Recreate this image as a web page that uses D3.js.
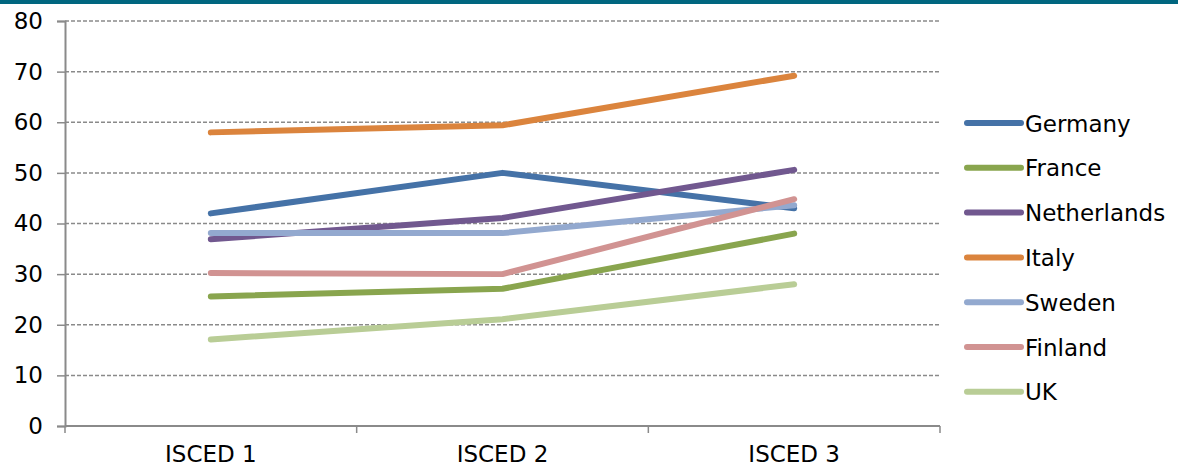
<!DOCTYPE html>
<html>
<head>
<meta charset="utf-8">
<script src="https://cdn.jsdelivr.net/npm/d3@7"></script>
<style>
  body { margin: 0; background: #fff; }
  text { font-family: "DejaVu Sans", Verdana, sans-serif; fill: #000; }
</style>
</head>
<body>
<div id="chart"></div>
<script>
// Data
const levels = ['ISCED 1', 'ISCED 2', 'ISCED 3'];
const countries = ['Germany', 'France', 'Netherlands', 'Italy', 'Sweden', 'Finland', 'UK'];
const germany = [42, 50, 43];
const france = [25.6, 27.1, 38];
const netherlands = [36.9, 41.1, 50.6];
const italy = [58, 59.4, 69.2];
const sweden = [38.1, 38.1, 43.6];
const finland = [30.2, 30, 44.8];
const uk = [17.1, 21.1, 28];
const yTicks = [0, 10, 20, 30, 40, 50, 60, 70, 80];
const colors = ['#4572a7', '#89a54e', '#71588f', '#db843d', '#93a9cf', '#d19392', '#b9cd96'];

const seriesValues = [germany, france, netherlands, italy, sweden, finland, uk];
const series = countries.map((name, i) => ({
  name,
  color: colors[i],
  values: seriesValues[i].map((v, j) => ({ level: levels[j], value: v }))
}));

const W = 1178, H = 468;
const plot = { left: 65, right: 940, top: 21, bottom: 426 };

const svg = d3.select('#chart')
  .append('svg')
  .attr('width', W)
  .attr('height', H);

// Title strip (only its bottom edge is visible in the crop)
svg.append('rect')
  .attr('x', 0).attr('y', 0)
  .attr('width', W).attr('height', 4)
  .attr('fill', '#00667f');

// Scales
const x = d3.scaleBand()
  .domain(levels)
  .range([plot.left, plot.right]);

const y = d3.scaleLinear()
  .domain([0, 80])
  .range([plot.bottom, plot.top]);

// Gridlines
svg.append('g')
  .selectAll('line')
  .data(yTicks.filter(d => d > 0))
  .join('line')
  .attr('x1', plot.left)
  .attr('x2', plot.right)
  .attr('y1', d => y(d))
  .attr('y2', d => y(d))
  .attr('stroke', '#8a8a8a')
  .attr('stroke-width', 1.5)
  .attr('stroke-dasharray', '4,2');

// Y axis
const yAxis = svg.append('g')
  .attr('transform', `translate(${plot.left},0)`)
  .call(d3.axisLeft(y).tickValues(yTicks).tickSize(8).tickPadding(14));
yAxis.select('.domain').attr('stroke', '#8a8a8a').attr('stroke-width', 2);
yAxis.selectAll('.tick line').attr('stroke', '#8a8a8a').attr('stroke-width', 1.5);
yAxis.selectAll('.tick text')
  .style('font-family', '"DejaVu Sans", Verdana, sans-serif')
  .style('font-size', '23px')
  .attr('fill', '#000');

// X axis (ticks between categories)
const xAxis = svg.append('g');
xAxis.append('line')
  .attr('x1', plot.left).attr('x2', plot.right)
  .attr('y1', plot.bottom).attr('y2', plot.bottom)
  .attr('stroke', '#8a8a8a')
  .attr('stroke-width', 2);

const boundaries = levels.map(l => x(l)).concat([x(levels[levels.length - 1]) + x.bandwidth()]);
xAxis.selectAll('line.tk')
  .data(boundaries)
  .join('line')
  .attr('class', 'tk')
  .attr('x1', d => d).attr('x2', d => d)
  .attr('y1', plot.bottom).attr('y2', plot.bottom + 7)
  .attr('stroke', '#8a8a8a')
  .attr('stroke-width', 1.5);

xAxis.selectAll('text')
  .data(levels)
  .join('text')
  .attr('x', d => x(d) + x.bandwidth() / 2)
  .attr('y', 462)
  .attr('text-anchor', 'middle')
  .style('font-size', '23px')
  .text(d => d);

// Lines
const line = d3.line()
  .x(d => x(d.level) + x.bandwidth() / 2)
  .y(d => y(d.value));

svg.append('g')
  .selectAll('path')
  .data(series)
  .join('path')
  .attr('d', d => line(d.values))
  .attr('fill', 'none')
  .attr('stroke', d => d.color)
  .attr('stroke-width', 6)
  .attr('stroke-linecap', 'round')
  .attr('stroke-linejoin', 'round');

// Legend
const legend = svg.append('g')
  .attr('transform', 'translate(967,123)');

const item = legend.selectAll('g')
  .data(series)
  .join('g')
  .attr('transform', (d, i) => `translate(0,${i * 44.8})`);

item.append('line')
  .attr('x1', 0).attr('x2', 54)
  .attr('y1', 0).attr('y2', 0)
  .attr('stroke', d => d.color)
  .attr('stroke-width', 6)
  .attr('stroke-linecap', 'round');

item.append('text')
  .attr('x', 58)
  .attr('y', 8.5)
  .style('font-size', '23px')
  .text(d => d.name);
</script>
</body>
</html>
